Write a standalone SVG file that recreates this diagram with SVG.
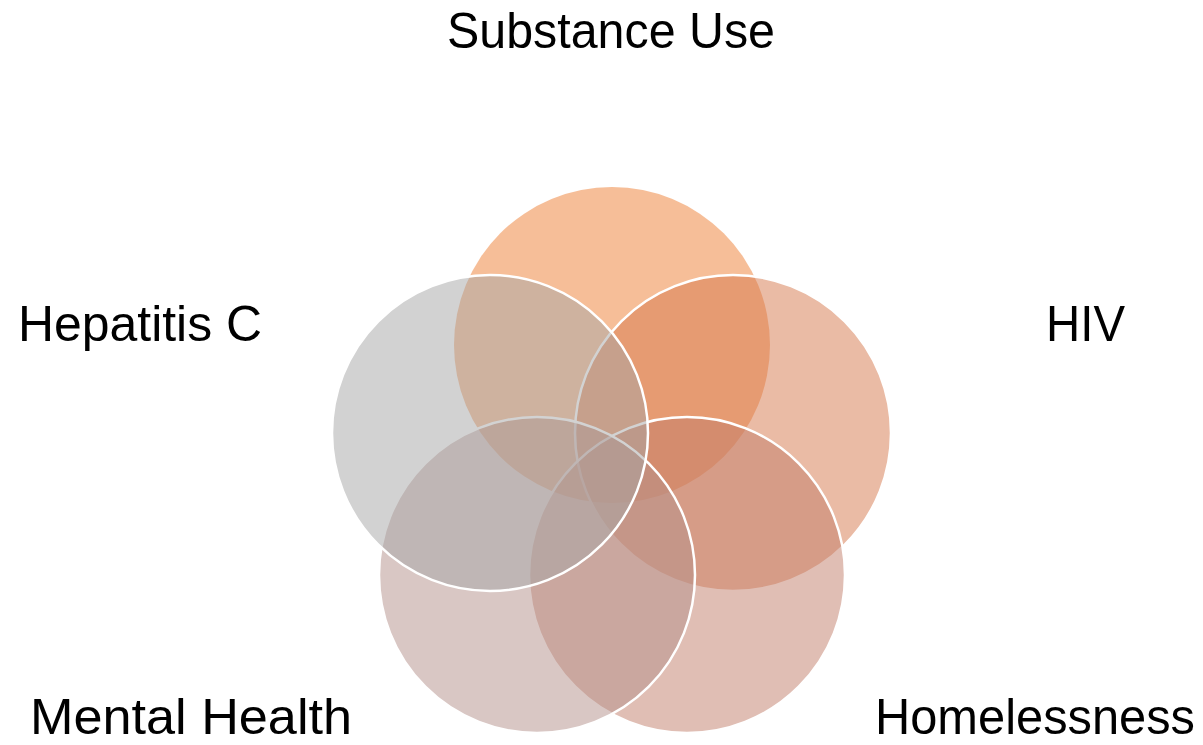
<svg xmlns="http://www.w3.org/2000/svg" width="1203" height="745" viewBox="0 0 1203 745">
<style>
.c{stroke:#FFFFFF;stroke-width:2.5;fill-opacity:0.5}
.t{font-family:"Liberation Sans",Arial,sans-serif;font-size:50px;fill:#000000}
</style>
<rect width="1203" height="745" fill="#FFFFFF"/>
<g id="substance-use">
<circle cx="612" cy="345" r="158" fill="#ED7D31" fill-opacity="0.5"/>
</g>
<g id="hiv">
<circle class="c" cx="733" cy="433" r="158" fill="#D5774C"/>
</g>
<g id="homelessness">
<circle class="c" cx="687" cy="575" r="158" fill="#C17D69"/>
</g>
<g id="mental-health">
<circle class="c" cx="537" cy="575" r="158" fill="#B38F89"/>
</g>
<g id="hepatitis-c">
<circle class="c" cx="490" cy="433" r="158" fill="#A5A5A5"/>
</g>
<g id="labels">
<text class="t" x="447" y="48" textLength="328" lengthAdjust="spacingAndGlyphs">Substance Use</text>
<text class="t" x="18" y="341" textLength="244" lengthAdjust="spacingAndGlyphs">Hepatitis C</text>
<text class="t" x="1046" y="341" textLength="79" lengthAdjust="spacingAndGlyphs">HIV</text>
<text class="t" x="30" y="734" textLength="322" lengthAdjust="spacingAndGlyphs">Mental Health</text>
<text class="t" x="875" y="734" textLength="320" lengthAdjust="spacingAndGlyphs">Homelessness</text>
</g>
<g id="connectors"/>
</svg>
